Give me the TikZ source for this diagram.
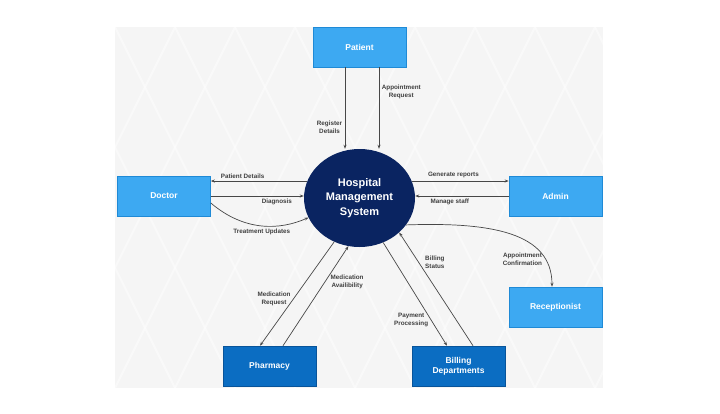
\documentclass[tikz,border=0pt]{standalone}
\usepackage{fontspec}
\setmainfont{Liberation Sans}
\usetikzlibrary{shapes.geometric,arrows.meta}
\definecolor{lightbox}{HTML}{3DA9F2}
\definecolor{lightedge}{HTML}{1F8AD6}
\definecolor{darkbox}{HTML}{0B6DC2}
\definecolor{darkedge}{HTML}{08549A}
\definecolor{navy}{HTML}{0A2461}
\colorlet{flowcol}{black!72}
\tikzset{>={Stealth[length=4pt,width=3pt]}}

\begin{document}
\begin{tikzpicture}[x=1pt, y=-1pt,
    entity/.style={draw=lightedge, fill=lightbox, line width=0.6pt, minimum width=93pt, minimum height=40pt,
        text=white, font=\fontsize{8.5}{10}\selectfont\bfseries, align=center, inner sep=0pt},
    darkentity/.style={entity, draw=darkedge, fill=darkbox},
    flow/.style={->, draw=flowcol, line width=0.7pt},
    lbl/.style={font=\fontsize{6.3}{8}\selectfont\bfseries, text=black!75, align=center, inner sep=2.5pt}]
    \useasboundingbox (0, 0) rectangle (720, 413);

    % background panel
    \fill[black!4] (115, 27) rectangle (603, 388);
    \begin{scope}
        \clip (115, 27) rectangle (603, 388);
        \foreach \i in {0, 1, ..., 12} {
            \draw[white, line width=2pt, opacity=0.45] (55+60*\i, 27) -- (-125+60*\i, 388);
            \draw[white, line width=2pt, opacity=0.45] (-5+60*\i, 27) -- (175+60*\i, 388);
        }
    \end{scope}

    % process
    \node[ellipse, fill=navy, minimum width=111pt, minimum height=98pt, inner sep=0pt, text=white,
        font=\fontsize{11}{14.5}\selectfont\bfseries, align=center] (hms) at (359.5, 198)
        {Hospital\\Management\\System};

    % entities
    \node[entity] (patient) at (359.5, 47) {Patient};
    \node[entity] (doctor) at (164, 196) {Doctor};
    \node[entity] (admin) at (555.5, 196) {Admin};
    \node[entity] (recep) at (555.5, 307) {Receptionist};
    \node[darkentity] (pharmacy) at (269.5, 366) {Pharmacy};
    \node[darkentity] (billing) at (458.5, 366) {Billing\\Departments};

    % patient flows
    \draw[flow] ([xshift=-14.5pt]patient.south) -- ([xshift=-14.5pt]patient.south |- hms.north)
        node[lbl, pos=0.73, left] {Register\\Details};
    \draw[flow] ([xshift=19.5pt]patient.south) -- ([xshift=19.5pt]patient.south |- hms.north)
        node[lbl, pos=0.3, right] {Appointment\\Request};

    % doctor flows
    \draw[flow] (hms.162) -- (hms.162 -| doctor.east)
        node[lbl, pos=0.67, above] {Patient Details};
    \draw[flow] (doctor.east) -- (doctor.east -| hms.west)
        node[lbl, pos=0.71, below] {Diagnosis};
    \draw[flow] ([yshift=-7pt]doctor.east) .. controls (245, 232) and (280, 230) .. (hms.201)
        node[lbl, pos=0.5, below] {Treatment Updates};

    % admin flows
    \draw[flow] (hms.18) -- (hms.18 -| admin.west)
        node[lbl, pos=0.43, above] {Generate reports};
    \draw[flow] (admin.west) -- (admin.west -| hms.east)
        node[lbl, pos=0.63, below] {Manage staff};

    % receptionist flow
    \draw[flow] (hms.-30) .. controls (490, 222) and (552, 232) .. (recep.north -| 552, 0)
        node[lbl, pos=0.8, left] {Appointment\\Confirmation};

    % pharmacy flows
    \draw[flow] (hms.240) -- ([xshift=-9.5pt]pharmacy.north)
        node[lbl, pos=0.55, left] {Medication\\Request};
    \draw[flow] ([xshift=13.5pt]pharmacy.north) -- (hms.257)
        node[lbl, pos=0.64, right, xshift=3pt] {Medication\\Availibility};

    % billing flows
    \draw[flow] (hms.-62) -- ([xshift=-11.5pt]billing.north)
        node[lbl, pos=0.75, left] {Payment\\Processing};
    \draw[flow] ([xshift=14.5pt]billing.north) -- (hms.-41)
        node[lbl, pos=0.74, right, xshift=4pt] {Billing\\Status};
\end{tikzpicture}
\end{document}
